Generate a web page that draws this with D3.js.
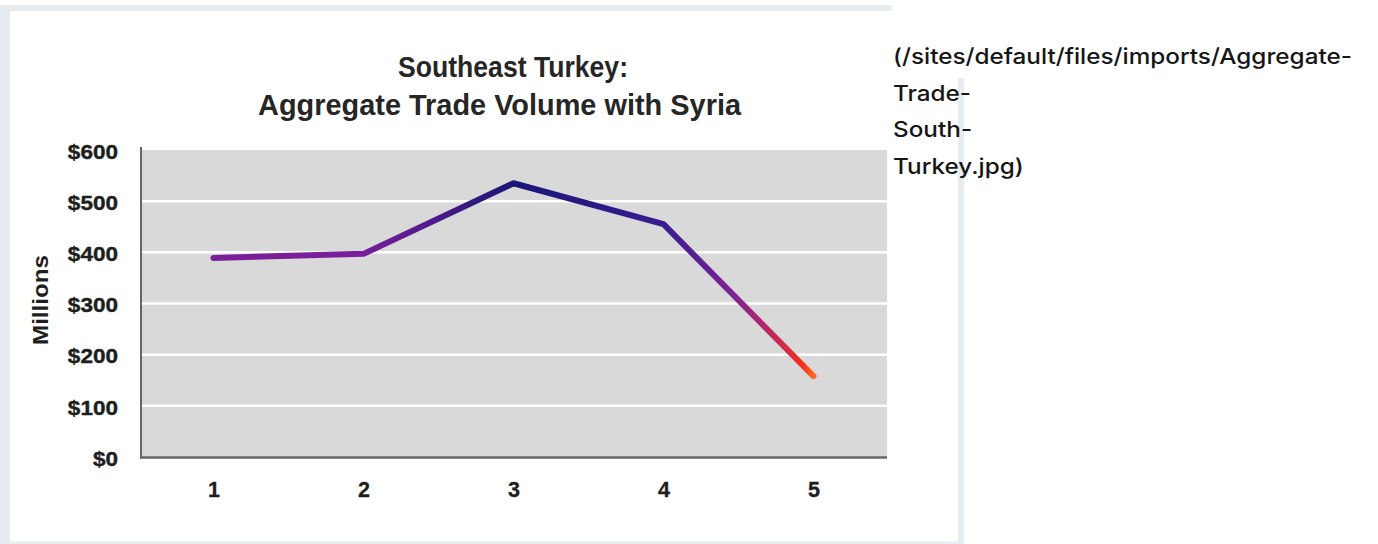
<!DOCTYPE html>
<html>
<head>
<meta charset="utf-8">
<script src="https://cdn.jsdelivr.net/npm/d3@7/dist/d3.min.js"></script>
<style>
  html, body { margin: 0; padding: 0; background: #ffffff; }
  svg { display: block; }
</style>
</head>
<body>
<svg id="chart" width="1378" height="544"></svg>
<script>
// ---- data ----
const categories = [1, 2, 3, 4, 5];
const tradeVolume = [389, 397, 535, 455, 158];   // $ millions
const yTicks = [0, 100, 200, 300, 400, 500, 600];
const yTickLabels = ["$0", "$100", "$200", "$300", "$400", "$500", "$600"];
const titleLines = ["Southeast Turkey:", "Aggregate Trade Volume with Syria"];
const yAxisTitle = "Millions";
const captionLines = ["(/sites/default/files/imports/Aggregate-", "Trade-", "South-", "Turkey.jpg)"];

const svg = d3.select("#chart");

// ---- page frame ----
const frameColor = "#e7ecf1";
svg.append("rect").attr("x", 0).attr("y", 5).attr("width", 964).attr("height", 545).attr("fill", frameColor);
svg.append("rect").attr("x", 10).attr("y", 11).attr("width", 948).attr("height", 530.5).attr("fill", "#ffffff");
svg.append("rect").attr("x", 892).attr("y", 0).attr("width", 486).attr("height", 78).attr("fill", "#ffffff");

// ---- scales ----
const plot = { left: 142, right: 887, top: 150, bottom: 457 };
const x = d3.scaleLinear().domain([1, 5]).range([213.5, 813.5]);
const y = d3.scaleLinear().domain([0, 600]).range([plot.bottom, plot.top]);

// plot background
svg.append("rect")
  .attr("x", plot.left).attr("y", plot.top)
  .attr("width", plot.right - plot.left).attr("height", plot.bottom - plot.top)
  .attr("fill", "#d9d9d9");

// gridlines
svg.append("g").selectAll("line")
  .data(yTicks.filter(d => d > 0 && d < 600))
  .join("line")
  .attr("x1", plot.left).attr("x2", plot.right)
  .attr("y1", d => y(d)).attr("y2", d => y(d))
  .attr("stroke", "#ffffff").attr("stroke-width", 2.5);

// axis lines
svg.append("line").attr("x1", 141).attr("x2", 141).attr("y1", 147).attr("y2", 458.5)
  .attr("stroke", "#666666").attr("stroke-width", 2);
svg.append("line").attr("x1", 140).attr("x2", plot.right).attr("y1", 457.5).attr("y2", 457.5)
  .attr("stroke", "#666666").attr("stroke-width", 2.5);

const labelFont = "'Liberation Sans', Arial, Helvetica, sans-serif";

// y axis
const yAxis = d3.axisLeft(y).tickValues(yTicks)
  .tickFormat((d, i) => yTickLabels[i]).tickSize(0).tickPadding(23);
const gy = svg.append("g").attr("transform", "translate(141,0)").call(yAxis);
gy.select(".domain").remove();
gy.selectAll("text")
  .attr("font-family", labelFont).attr("font-weight", "bold")
  .attr("font-size", 20.5).attr("fill", "#1e1e1e").attr("dy", "0.4em")
  .attr("stroke", "#1e1e1e").attr("stroke-width", 0.4)
  .each(function () {
    const w = this.getComputedTextLength();
    d3.select(this).attr("textLength", w * 1.1).attr("lengthAdjust", "spacingAndGlyphs");
  });

// x axis
const xAxis = d3.axisBottom(x).tickValues(categories).tickFormat(d3.format("d")).tickSize(0);
const gx = svg.append("g").attr("transform", `translate(0,${plot.bottom})`).call(xAxis);
gx.select(".domain").remove();
gx.selectAll("text")
  .attr("font-family", labelFont).attr("font-weight", "bold")
  .attr("font-size", 21.5).attr("fill", "#1e1e1e").attr("y", 39.5).attr("dy", 0)
  .attr("stroke", "#1e1e1e").attr("stroke-width", 0.3);

// y axis title
svg.append("text")
  .attr("transform", "translate(48,300) rotate(-90)")
  .attr("text-anchor", "middle")
  .attr("font-family", labelFont).attr("font-weight", "bold")
  .attr("font-size", 22).attr("fill", "#1e1e1e")
  .attr("textLength", 90).attr("lengthAdjust", "spacingAndGlyphs")
  .text(yAxisTitle);

// title
const titleSpec = [{ x0: 398, x1: 628, base: 77 }, { x0: 258, x1: 741, base: 115 }];
titleLines.forEach((t, i) => {
  svg.append("text")
    .attr("x", titleSpec[i].x0).attr("y", titleSpec[i].base)
    .attr("font-family", "'Liberation Sans Narrow', 'Liberation Sans', Arial, sans-serif")
    .attr("font-weight", "bold")
    .attr("font-size", 29.5).attr("fill", "#262626")
    .attr("textLength", titleSpec[i].x1 - titleSpec[i].x0)
    .attr("lengthAdjust", "spacingAndGlyphs")
    .text(t);
});

// gradient for the line
const defs = svg.append("defs");
const grad = defs.append("linearGradient").attr("id", "lineGrad")
  .attr("gradientUnits", "userSpaceOnUse")
  .attr("x1", x(1)).attr("x2", x(5)).attr("y1", 0).attr("y2", 0);
const gradStops = [
  { v: 1, c: "#7a1f96" }, { v: 2, c: "#7a1e9c" }, { v: 3, c: "#1a1676" },
  { v: 4, c: "#3a1c92" }, { v: 4.45, c: "#7a2494" }, { v: 4.8, c: "#d42a4c" },
  { v: 4.93, c: "#f5301c" }, { v: 5, c: "#ff6a1e" }
];
grad.selectAll("stop").data(gradStops).join("stop")
  .attr("offset", d => (x(d.v) - x(1)) / (x(5) - x(1)))
  .attr("stop-color", d => d.c);

const line = d3.line().x((d, i) => x(categories[i])).y(d => y(d));
svg.append("path")
  .datum(tradeVolume)
  .attr("d", line)
  .attr("fill", "none")
  .attr("stroke", "url(#lineGrad)")
  .attr("stroke-width", 6)
  .attr("stroke-linejoin", "round")
  .attr("stroke-linecap", "round");

// caption text on the right
const capG = svg.append("g")
  .attr("font-family", "Inter, 'Noto Sans', sans-serif")
  .attr("font-weight", 500)
  .attr("fill", "#161616");
const capBases = [64, 101, 137, 174];
const capSize = 21.5;
const capTexts = captionLines.map((t, i) =>
  capG.append("text").attr("x", 893).attr("y", capBases[i]).attr("font-size", capSize).text(t));
const k = 459 / capTexts[0].node().getComputedTextLength();
capTexts.forEach(t => {
  const w = t.node().getComputedTextLength();
  t.attr("textLength", w * k).attr("lengthAdjust", "spacingAndGlyphs");
});
</script>
</body>
</html>
